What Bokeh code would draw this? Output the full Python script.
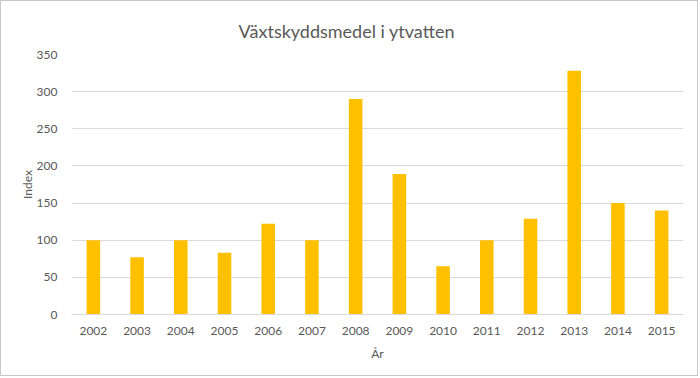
from bokeh.plotting import figure
from bokeh.models import ColumnDataSource, Range1d, FactorRange
from bokeh.embed import file_html
from bokeh.resources import INLINE

years = ["2002", "2003", "2004", "2005", "2006", "2007", "2008",
         "2009", "2010", "2011", "2012", "2013", "2014", "2015"]
index_values = [100, 77, 100, 83, 122, 100, 290, 189, 65, 100, 129, 328, 150, 140]
y_ticks = [0, 50, 100, 150, 200, 250, 300, 350]

FONT = "Lato"
GREY = "#595959"
GRID = "#d9d9d9"

src = ColumnDataSource(dict(year=years, val=index_values))

p = figure(width=698, height=376, x_range=FactorRange(*years, range_padding=0),
           y_range=Range1d(0, 350), output_backend="svg", toolbar_location=None,
           title="Växtskyddsmedel i ytvatten",
           min_border_left=70, min_border_right=16, min_border_top=53, min_border_bottom=63)
p.styles = {"border": "1px solid #c8c8c8"}

p.vbar(x="year", top="val", width=0.31, source=src, fill_color="#FFC000", line_color=None)

p.title.align = "left"
p.title.text_font = FONT
p.title.text_font_size = "18px"
p.title.text_font_style = "normal"
p.title.text_color = GREY
p.title.offset = 167
p.title.standoff = 25

p.outline_line_color = None
p.background_fill_color = "white"
p.border_fill_color = "white"

p.xgrid.grid_line_color = None
p.ygrid.grid_line_color = GRID
p.ygrid.ticker = y_ticks

p.yaxis.ticker = y_ticks
p.yaxis.axis_line_color = None
p.yaxis.major_tick_line_color = None
p.yaxis.minor_tick_line_color = None
p.yaxis.major_label_text_font = FONT
p.yaxis.major_label_text_font_size = "12px"
p.yaxis.major_label_text_color = GREY
p.yaxis.major_label_standoff = 8
p.yaxis.axis_label = "Index"
p.yaxis.axis_label_text_font = FONT
p.yaxis.axis_label_text_font_size = "12px"
p.yaxis.axis_label_text_font_style = "normal"
p.yaxis.axis_label_text_color = GREY
p.yaxis.axis_label_standoff = -1

p.xaxis.axis_line_color = GRID
p.xaxis.major_tick_line_color = None
p.xaxis.minor_tick_line_color = None
p.xaxis.major_label_text_font = FONT
p.xaxis.major_label_text_font_size = "12px"
p.xaxis.major_label_text_color = GREY
p.xaxis.major_label_standoff = 6
p.xaxis.axis_label = "År"
p.xaxis.axis_label_text_font = FONT
p.xaxis.axis_label_text_font_size = "12px"
p.xaxis.axis_label_text_font_style = "normal"
p.xaxis.axis_label_text_color = GREY
p.xaxis.axis_label_standoff = 8

open("out.html", "w").write(file_html(p, INLINE))
